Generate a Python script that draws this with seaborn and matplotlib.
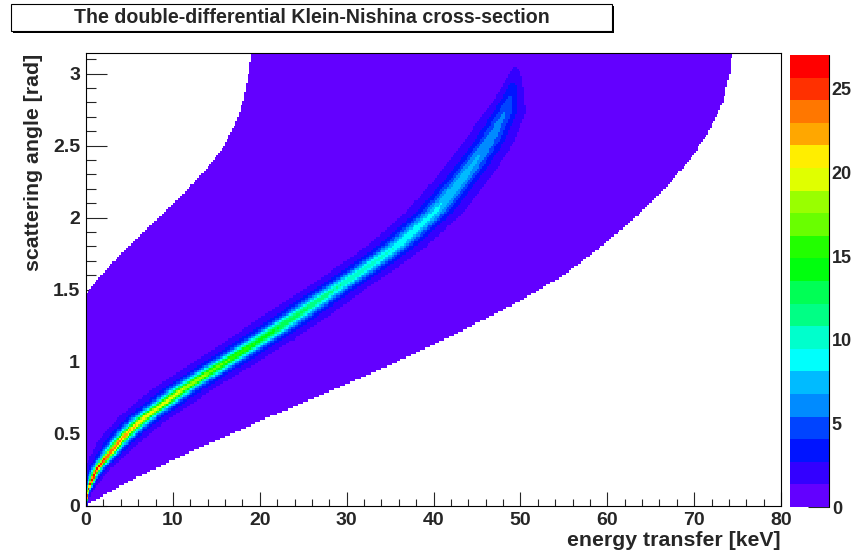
import numpy as np
import pandas as pd
import matplotlib
matplotlib.use("Agg")
import matplotlib.pyplot as plt
from matplotlib.colors import ListedColormap, BoundaryNorm
from matplotlib.patches import Rectangle
from matplotlib.ticker import FixedLocator
import seaborn as sns

# ---------------- data ----------------
title = "The double-differential Klein-Nishina cross-section"
x_title = "energy transfer [keV]"
y_title = "scattering angle [rad]"

x_range = [0.0, 80.0]
y_range = [0.0, 3.14159]
n_bins_x = 400
n_bins_y = 200

# centre of the Compton ridge (energy transfer vs angle)
ridge_theta = [0.00, 0.05, 0.10, 0.18, 0.25, 0.36, 0.45, 0.53, 0.62, 0.71, 0.80, 0.87,
               1.01, 1.15, 1.31, 1.50, 1.64, 1.80, 2.03, 2.26, 2.45, 2.56, 2.73, 2.88,
               3.00, 3.08, 3.1416]
ridge_T = [0.0, 0.06, 0.19, 0.7, 1.2, 2.7, 3.9, 5.2, 6.9, 9.0, 10.9, 12.7,
           16.4, 20.0, 24.0, 28.5, 32.0, 35.7, 40.0, 43.2, 45.5, 46.7, 48.2, 49.0,
           49.4, 49.5, 49.6]
# peak height of the ridge
ridge_peak = [14.0, 25.0, 27.0, 27.0, 26.3, 25.0, 23.5, 22.0, 21.0, 20.0, 19.2, 18.3,
              16.3, 14.6, 12.8, 11.0, 10.2, 9.4, 8.4, 7.5, 6.7, 6.2, 5.4, 3.6,
              1.9, 0.85, 0.0]
# half width of the ridge [keV]
ridge_width = [0.02, 0.07, 0.13, 0.24, 0.33, 0.49, 0.60, 0.69, 0.79, 0.88, 0.95, 1.0,
               1.11, 1.2, 1.28, 1.33, 1.37, 1.40, 1.44, 1.47, 1.48, 1.48, 1.36, 1.05,
               0.95, 0.95, 0.95]

# kinematic limits of the filled region
upper_edge_theta = [0.0, 1.464, 1.545, 1.66, 1.776, 1.892, 2.007, 2.123, 2.239, 2.354,
                    2.47, 2.586, 2.70, 2.817, 2.933, 3.1416]
upper_edge_T = [0.0, 0.0, 1.04, 2.57, 4.49, 6.41, 8.52, 10.44, 12.35, 14.1,
                15.6, 16.65, 17.5, 18.1, 18.5, 19.07]
lower_edge_theta = [0.0, 0.1, 0.2, 0.4, 0.6, 0.8, 1.0, 1.2, 1.4, 1.6, 1.8, 2.0, 2.2,
                    2.4, 2.6, 2.8, 3.0, 3.1416]
lower_edge_T = [0.0, 2.85, 5.97, 12.95, 20.5, 28.25, 35.8, 42.8, 49.3, 55.0, 59.3, 63.2,
                66.6, 69.5, 71.7, 73.3, 74.1, 74.35]

z_max = 27.03
n_levels = 20
x_ticks = [0, 10, 20, 30, 40, 50, 60, 70, 80]
y_ticks = [0, 0.5, 1, 1.5, 2, 2.5, 3]
z_ticks = [0, 5, 10, 15, 20, 25]

# ROOT "pretty" palette, 20 contour colours
level_colors = ["#6300ff", "#3300ff", "#0014ff", "#0044ff", "#008bff", "#00bbff",
                "#00fffc", "#00ffcc", "#00ff85", "#00ff55", "#00ff0e", "#22ff00",
                "#69ff00", "#99ff00", "#e0ff00", "#ffee00", "#ffa700", "#ff7700",
                "#ff3000", "#ff0000"]

# ---------------- style ----------------
sns.set_style("white")
plt.rcParams['font.family'] = ['Liberation Sans', 'DejaVu Sans']
plt.rcParams['font.weight'] = 'bold'

# ---------------- histogram ----------------
t_edges = np.linspace(x_range[0], x_range[1], n_bins_x + 1)
th_edges = np.linspace(y_range[0], y_range[1], n_bins_y + 1)
t_c = 0.5 * (t_edges[:-1] + t_edges[1:])
th_c = 0.5 * (th_edges[:-1] + th_edges[1:])
TT = t_c[None, :]
rc = np.interp(th_c, ridge_theta, ridge_T)[:, None]
pk = np.interp(th_c, ridge_theta, ridge_peak)[:, None]
wd = np.interp(th_c, ridge_theta, ridge_width)[:, None]
tmin = np.interp(th_c, upper_edge_theta, upper_edge_T)[:, None]
tmax = np.interp(th_c, lower_edge_theta, lower_edge_T)[:, None]

Z = pk / (1.0 + ((TT - rc) / wd) ** 2) + 0.02
Z = np.where((TT >= tmin) & (TT <= tmax), Z, np.nan)
Z = np.minimum(Z, z_max * 0.999)
df = pd.DataFrame(Z, index=np.round(th_c, 4), columns=np.round(t_c, 3))

# ---------------- figure ----------------
W, H = 859, 557
fig = plt.figure(figsize=(W / 100, H / 100), dpi=100)
ax = fig.add_axes([86 / W, 1 - 505.7 / H, 695 / W, 452.4 / H])
cax = fig.add_axes([790 / W, 1 - 507 / H, 39 / W, 452 / H])

cmap = ListedColormap(level_colors)
norm = BoundaryNorm(np.linspace(0, z_max, n_levels + 1), cmap.N)
sns.heatmap(df, ax=ax, cmap=cmap, norm=norm, cbar_ax=cax,
            xticklabels=False, yticklabels=False, cbar_kws={'ticks': z_ticks})
ax.set_xlim(0, n_bins_x)
ax.set_ylim(0, n_bins_y)

dx = (x_range[1] - x_range[0]) / n_bins_x
dy = (y_range[1] - y_range[0]) / n_bins_y
ax.xaxis.set_major_locator(FixedLocator([(v - x_range[0]) / dx for v in x_ticks]))
ax.set_xticklabels([str(v) for v in x_ticks])
ax.xaxis.set_minor_locator(FixedLocator([(v - x_range[0]) / dx for v in np.arange(0, 80.1, 2)]))
ax.yaxis.set_major_locator(FixedLocator([(v - y_range[0]) / dy for v in y_ticks]))
ax.set_yticklabels([f"{v:g}" for v in y_ticks])
ax.yaxis.set_minor_locator(FixedLocator([(v - y_range[0]) / dy for v in np.arange(0, 3.15, 0.1)]))

for s in ax.spines.values():
    s.set_visible(True)
    s.set_color('black')
    s.set_linewidth(0.8)

ax.tick_params(axis='x', which='major', direction='in', length=9.8, width=0.8,
               bottom=True, top=False, labelsize=14, pad=4.5, rotation=0)
ax.tick_params(axis='x', which='minor', direction='in', length=4.9, width=0.8,
               bottom=True, top=False)
ax.tick_params(axis='y', which='major', direction='in', length=15, width=0.8,
               left=True, right=False, labelsize=14, pad=4.3, rotation=0)
ax.tick_params(axis='y', which='minor', direction='in', length=7.5, width=0.8,
               left=True, right=False)
for lab in ax.get_xticklabels() + ax.get_yticklabels():
    lab.set_fontweight('bold')

ax.set_xlabel(x_title, fontsize=15.3, fontweight='bold', loc='right')
ax.xaxis.set_label_coords(1.0, -0.056)
ax.set_ylabel(y_title, fontsize=15.3, fontweight='bold', loc='top')
ax.yaxis.set_label_coords(-0.062, 1.0)

cb = ax.collections[0].colorbar
cb.outline.set_visible(False)
cax.tick_params(direction='in', length=15, width=0.8, labelsize=13, pad=2,
                right=True, left=False)
cax.minorticks_off()
for lab in cax.get_yticklabels():
    lab.set_fontweight('bold')
cax.plot([1, 1], [0, 1], transform=cax.transAxes, color='black', lw=0.8, clip_on=False)

# title pave with a small shadow, as ROOT draws it
bx0, bx1, by0, by1 = 11, 612, 4, 31
fig.add_artist(Rectangle(((bx0 + 2) / W, 1 - (by1 + 2) / H), (bx1 - bx0) / W, (by1 - by0) / H,
                         transform=fig.transFigure, fill=True, fc='black', lw=0))
fig.add_artist(Rectangle((bx0 / W, 1 - by1 / H), (bx1 - bx0) / W, (by1 - by0) / H,
                         transform=fig.transFigure, fill=True, fc='white', lw=0.8, ec='black'))
fig.text((bx0 + bx1) / 2 / W, 1 - (by0 + by1) / 2 / H, title, ha='center', va='center',
         fontsize=14.1, fontweight='bold')

fig.savefig('out.png', dpi=100)
